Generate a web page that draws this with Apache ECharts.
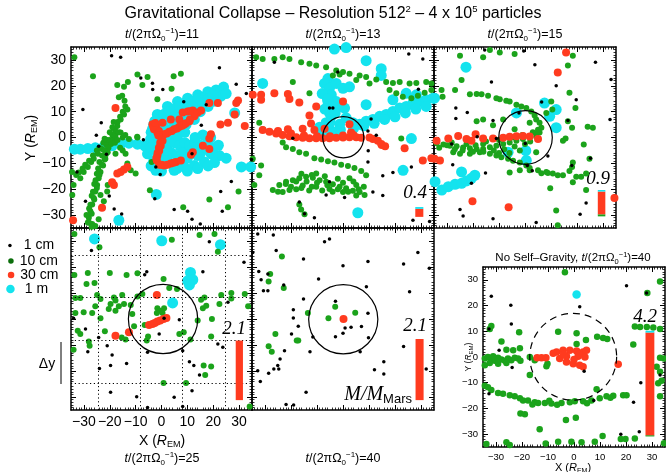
<!DOCTYPE html>
<html>
<head>
<meta charset="utf-8">
<title>Gravitational Collapse</title>
<script src="https://cdn.jsdelivr.net/npm/echarts@6/dist/echarts.min.js"></script>
<style>
  html, body { margin: 0; padding: 0; background: #fff; }
  #chart { width: 666px; height: 472px; }
</style>
</head>
<body>
<div id="chart"></div>
<script>
// particle positions, X and Y in R_EM, one array per panel and size class

// t = 11
const t11Cm1 = [[-19.3,31.6],[-15.8,31],[22.4,27],[-30.4,10.8],[-23.3,5.7],[-25.2,0.9],[-24.3,-3.4],[-21.3,-6.5],[-7,-0.9],[-3.4,18.6],[0.5,18.6],[8.6,13.8],[17.3,12.7],[15.4,4.7],[11.8,-6.3],[-2.2,-11.4],[-0.5,-14.3],[-2.6,-23.7],[4.9,-27.8],[10.1,-28.5],[11.8,-31.6],[15,-33.5],[23.5,-28.5],[27,-17],[28.9,20.6],[32.8,17],[34.8,-8.5],[-8,23],[-3.5,21],[-32.7,-13.3],[-29.4,-24.7],[-20.2,-22.6],[-18.3,-27.7],[-15.4,-29.6],[22.9,-20.9]];
const t11Cm10 = [[-33.7,31],[-26.5,23.7],[-17.1,20.3],[-14.5,19.6],[-13,21.5],[-9.3,24.4],[-7.4,20.3],[-5.4,23.4],[4.7,23.7],[7.5,24.7],[-1.6,14.8],[3.9,18.9],[-16.5,15.6],[-15.2,16.1],[-14.3,14.2],[-13.2,10.8],[-14.5,8.9],[-15.8,7],[-17.1,4.4],[-17.8,1.9],[-18.7,-0.6],[-19.7,-1.8],[-20.8,-5.7],[-21.7,-8.2],[-22.6,-10.8],[-23.6,-13.3],[-24.3,-15.8],[-24.9,-18.4],[-25.6,-20.9],[-26.2,-23.4],[-26.8,-25.9],[-27.5,-28.5],[-28.1,-31],[-28.5,-32.9],[-26.8,-33.5],[-25.6,-34.2],[-24.3,-31.6],[-23.2,-27.2],[-22.3,-24.7],[-23.6,-22.2],[-31.4,-15.8],[-30.1,-13.3],[-28.5,-11.4],[-27.2,-9.5],[-26.2,-8.2],[-24.6,-6.3],[-23,-4.4],[-21.3,-2.7],[-17.8,0.6],[-15.8,1.9],[-12.6,-0.6],[-9.3,0],[-10,-13.9],[-11.9,-12.7],[-13.2,-10.1],[-13.9,-6.3],[-17.8,-6.3],[-21,-20.9],[-20.8,-18.4],[-3.8,-9.5],[2,-10.8],[18.5,-24],[25.7,-27],[29.8,-20.9],[-34.6,-13.3],[-34,-18.4],[-34.5,-22.2],[-4.5,-20.4],[8.4,-27],[-9.4,0.3],
  [-19,1],[-18,3],[-20,-1],[-21,-3],[-19.5,-2.5],[-20.5,-4],[-22,-5],[-21.5,-6.5],[-23,-7],[-22,-8.5],[-24,-9.5],[-23,-10.5],[-24.5,-12],[-25,-14],[-24,-14.5],[-25.5,-16.5],[-26,-18],[-25,-19.5],[-26.5,-21],[-27,-22.5],[-26,-24],[-27.5,-26],[-28,-27.5],[-27,-29.5],[-29,-30],[-28,-33],[-27,-34.5],[-17,6],[-16,8],[-15,10],[-14,12],[-16.5,2],[-18,-2],[-17,-1],[-15,0],[-14,1],[-16,-4],[-15,-5],[-33,-14.5],[-32,-13.5],[-30.5,-12],[-29.5,-10.5],[-28,-9],[-26.5,-7],[-25,-5],[-24,-4],[-22.5,-2],[-21,-1],[-19,4],[-18.5,6],[-20,2],[-22,-0.5]];
const t11Cm30 = [[-2.9,3.2],[-1.6,1.9],[-0.3,0.4],[1,1.3],[3,2.2],[4.9,3.2],[6.9,4.2],[8.8,5],[10.8,6.3],[12.7,8.2],[14,9.7],[15.3,10.4],[12.1,10.4],[10.1,10.1],[8.2,9.7],[0.4,-1.3],[-0.3,-3.2],[-0.9,-5.1],[-1.6,-7],[-1.8,-8.9],[-0.9,-10.5],[1,-10.8],[3.6,-10.1],[5.6,-9.5],[7.5,-8.9],[0.4,5.7],[-3.5,5.1],[3.6,7],[6.9,7],[12.1,-5.7],[11.4,-6.7],[16,-3.2],[18.5,-4.4],[18.5,-0.4],[19.1,1.3],[21.8,13.3],[18.5,13.3],[28.3,8.9],[28.9,13.3],[29.6,14.3],[25.7,5.7],[32.2,4.4],[-17.1,-13.9],[-15.8,-13.3],[-14.5,-12.4],[-13.2,-11.4],[-19.1,-17.3],[-18.4,-18.4],[-17.8,11.4],[-23,-27.2],[-34.2,-32],[22.8,5],
  [-2,4],[-1,2.5],[0,1],[2,1.5],[4,2.5],[6,3.5],[8,4.5],[9.5,5.5],[11,7],[13,9.2],[-0.5,-2],[-1,-4],[-1.5,-6],[-2,-8],[0,-10.5],[2.3,-10.5],[4.6,-9.8],[-3.2,4.3],[-2.4,5.6],[11,10.2],[-1.2,0.8]];
const t11M1 = [[-33.7,-4.5],[-31.4,-4.5],[-28.5,-4.3],[-25.6,-4],[-22.3,-3.6],[-19.1,-3.2],[-15.8,-2.6],[-12.6,-2.2],[-9.3,-2.6],[-6.5,-3.2],[-5.4,-6.3],[-4.2,-0.6],[-3.5,3.2],[-2.6,6.3],[-1.6,8.9],[2.3,12],[6.2,13.9],[10.1,15.2],[14,16.5],[17.9,17.7],[21.1,18.4],[23.7,18.6],[15.3,13.3],[11.6,11.4],[7.5,9.5],[3.6,7],[6.2,-0.6],[8.8,-3.2],[11.4,-5.1],[15.3,-5.7],[19.2,-6.3],[22.4,-7],[17.9,-1.9],[13.4,-3.8],[2.3,-4.4],[-1.6,-5.7],[4.9,-12.7],[8.8,-11.4],[12.7,-10.8],[16.6,-9.5],[20.5,-9.7],[-2.2,-12.7],[-2,-22],[-16.5,-32],[30.9,-11.4],[34.5,-11.4],[4.9,4.4],[9.5,5],[12.7,7],[28.3,9.5],
  [-3,-2],[-1,-3],[1,-2],[3,-1],[5,-2],[7,-3],[9,-2],[11,-3],[13,-2],[15,-3],[17,-4],[20,-4],[0,-7],[2,-8],[4,-6],[6,-7],[8,-6],[10,-8],[-4,-4],[-3,-9],[-4,2],[-3,5],[-1,7],[1,9],[3,10],[5,11],[7,12],[9,13],[12,14],[14,15],[17,16],[19,17],[22,17],[24,19.5],[20,14],[18,12],[1,4],[2,-5],[6,1],[9,2],[13,0],[16,1],[19,0],[22,-3],[14,-7],[6,-12],[10,-13],[14,-12],[18,-11],[0,-13],[-4,-11],[25,-8],[0.5,1.5],[-1,-0.5],
  [15,10],[18,15],[21,15.5],[23,16],[10,10],[5,8],[8,7],[12,12],[25,17],[16,12.5],[20,16.5]];

// t = 13
const t13Cm1 = [[-26.4,29.1],[-2,25.3],[-5.2,11.4],[-3.9,11.4],[10.8,7.2],[9.6,2.5],[12.8,0.9],[-19.3,-0.3],[9.6,-9.5],[26.3,-11.4],[19.2,-13.5],[15.3,-14.8],[11.5,-21.1],[15.3,-22.4],[0.6,-23.2],[-16.8,-24.9],[-14.8,-29.5],[-11,-31],[26.9,-32],[33.3,-32.5],[30.7,30.4],[25.3,32.3],[-6.5,-22.2],[-5.2,-17.1],[9.7,-5.1],[29,18.7]];
const t13Cm10 = [[-33.4,31],[-30.9,30.4],[-23.2,31],[-20.6,30.4],[-16.1,29.1],[-12.9,28.5],[-10.3,27.8],[-6.5,27.2],[-2.6,25.9],[0,25.3],[2.5,24.7],[6.4,24],[8.9,23.4],[12.8,22.4],[16.6,21.5],[19.2,21.1],[21.8,21.5],[25.6,20.9],[28.2,21.1],[32,21.5],[34,20.9],[17.9,18.4],[20.5,17.1],[23,15.8],[26.3,15.2],[28.8,16.1],[31.4,17.3],[34,18.4],[-26.4,30.4],[-19.3,21.5],[-12.9,17.1],[-3.9,24],[-1.3,24.4],[5.1,22.2],[10.2,20.9],[-32.2,5.7],[-30.9,3.2],[-23.2,-1.9],[-21.9,-3.8],[-19.3,-4.4],[-16.8,-5.7],[-14.2,-6.3],[-11,-8],[-8.4,-8.5],[-5.8,-9.2],[-3.3,-9.7],[-0.7,-10.5],[1.9,-11],[4.4,-11.8],[7,-13],[8.9,-14.6],[-27,-20.3],[-24.5,-18.4],[-21.9,-17.1],[-19.3,-16.5],[-16.8,-15.8],[-14.2,-15.2],[-11.6,-15.6],[-9,-16.5],[-6.5,-17.1],[-3.9,-18.1],[-1.3,-19],[1.2,-19.6],[3.8,-20.6],[6.4,-21.1],[8.3,-22.2],[-23.2,-21.1],[-20.6,-20.3],[-15.5,-18.6],[-10.3,-19],[-5.2,-19.9],[0,-21.1],[5.1,-22.4],[-10.3,-13.9],[2.5,-15.8],[5.1,-18.4],[-16.8,-25.9],[-16.1,-27.8],[-14.8,-29.7],[-32.2,-14.6],[-34.1,-18.4],[-31.5,-10.8],[22.4,-0.4],[-34.7,-8.2],
  [-22,-18],[-18,-17],[-14,-17],[-10,-17.5],[-6,-18.5],[-2,-20],[2,-21],[6,-20],[-8,-20.5],[-4,-21],[-12,-19],[-16,-19.5],[-20,-19],[-25,-21],[-16,-14],[-12,-14.5],[-2,-16],[4,-17],[8,-19],[-7,-15],[0,-17.5],[-18,-20],[-13,-20.5]];
const t13Cm30 = [[-30.9,2.9],[-28.3,2.2],[-25.7,1.5],[-23.2,1],[-20.6,0.5],[-18,0.1],[-15.5,-0.1],[-12.9,-0.3],[-10.3,-0.3],[-7.8,-0.3],[-5.2,-0.3],[-2.6,-0.1],[0,0],[2.5,0.1],[5.1,0.1],[7,-0.1],[-34.7,16.5],[-31.5,16.5],[-31.5,14.6],[-26.4,17.1],[-21.2,16.8],[-20.6,14.9],[-16.8,13.5],[-10.3,12],[-12.9,8.5],[-12.3,5.4],[-11,2.9],[0,13.9],[3.1,1.9],[2.5,5.1],[11.5,-0.6],[13.4,-1.3],[14.9,-2.9],[16.2,-3.4],[23.7,-4.2],[30.7,-8.9],[34,-8],[-7.1,3.4],[-21.2,3.2],[-15.5,3.4],[10.2,0],[14.7,-2.5],
  [-25,2.5],[-20,1.5],[-15,0.8],[-10,0.5],[-5,0.5],[0,0.8],[4,1]];
const t13M1 = [[-30.9,20.9],[-3.3,34.2],[1.2,34.8],[8.9,29.7],[14.7,26.6],[14.7,24],[-5.8,22.8],[-7.1,20.9],[-5.2,19],[-2.6,20.9],[0,19],[2.5,19.6],[-4.5,16.5],[-2.6,13.9],[-1.3,12],[0.6,11.4],[-5.8,13.9],[-4.5,8.2],[-6.5,5.7],[-8.4,3.2],[1.2,7.6],[3.8,5.7],[6.4,5.1],[8.9,6.3],[11.5,7],[14.1,8.2],[16.6,8.9],[19.2,10.1],[21.8,11.4],[24.3,12],[26.9,13.3],[29.5,13.9],[32,14.6],[34.6,15.2],[19.2,14.6],[24.3,17.1],[28.2,16.5],[8.9,12.7],[-5.2,9.5],[-1.3,5.1],[-5.2,3.2],[26.3,-0.4],[23.1,-12.7],[5.7,-29.1],[-9,1.6],
  [4,3.5],[8,4.5],[12,5.5],[16,7],[20,8],[24,9.5],[28,11],[32,12],[-8,17],[-6,15],[-4,12],[-3,9.5],[-7,11],[-5,6],[-9,4],[-7,1.5],[-3,2],[-1,3]];

// t = 15
const t15Cm1 = [[-15.5,33.8],[-0.5,33.5],[3.8,28.1],[27.1,29.1],[33.1,22.4],[-12.9,21.5],[12,20],[19.7,14.6],[-26.6,11.4],[-22.2,9.7],[-26.6,7.3],[-12.3,6.6],[-2.3,9.5],[6.4,13.7],[16.5,6.6],[32.7,7],[-18.4,0.3],[-11,-0.4],[-28.2,-2.5],[-27.8,-10.5],[0.1,-2.3],[8.8,-7.2],[0.9,-10.8],[2.8,-12.9],[18,-10.8],[25.2,-8],[-15.2,-13.7],[-20.6,-17.7],[-25,-27.8],[-23.8,-30.4],[-12.3,-31.4],[4.3,-32.9],[21.2,-29.7],[23.5,-25.3]];
const t15Cm10 = [[-25,31.6],[-16.1,31],[-13.5,33.8],[-9.7,32.9],[-4,32.3],[18.4,31.6],[16.5,27.8],[-24.4,22.2],[-26.9,18.4],[-32.1,18.4],[-31.7,15.8],[-21.2,16.7],[-18.6,16.8],[-16.7,16.7],[-14.2,16.1],[-11,15.2],[-9.7,14.8],[-7.2,14.2],[-5.9,13.9],[-3.3,12.7],[-1.4,12],[0.5,11.4],[2.4,10.1],[3.7,8.5],[4.3,7],[5.6,5.7],[6.3,3.8],[5.6,1.9],[4.3,0.4],[10.1,13.9],[10.5,10.8],[17.1,17.3],[19.4,11.4],[16.5,6.3],[18.1,3.8],[24.1,4.2],[26.1,3.8],[15.6,-0.4],[14.6,-1.3],[22.6,-2.7],[24.8,-8.2],[18.4,-9.7],[18.1,-11.4],[17.1,-13],[14.6,-14.6],[12.6,-14.6],[10.7,-13.9],[8.8,-13.7],[6.3,-13.8],[5,-12.7],[1.8,-11.8],[0.5,-10.8],[-2,-9.7],[-4.6,-9],[-6.5,-8.2],[-9.1,-7.6],[-11,-7],[-13.5,-6.3],[-34,-2.2],[-31.4,-2.7],[-28.9,-3.2],[-26.3,-3.4],[-23.8,-3.9],[-21.2,-4.2],[-18.6,-4.4],[-16.1,-4.4],[-13.5,-3.8],[-11,-3.2],[-8.4,-2.5],[-5.9,-1.9],[-3.3,-1.3],[-0.8,-0.6],[1.8,0.4],[4.3,1.6],[-27.6,-5.7],[-25,-6.3],[-21.2,-6.3],[-17.4,-5.7],[-28.2,-1.9],[-22.5,-2.5],[-16.1,-2.5],[19.7,-15.2],[21.6,-15.2],[23.5,-13.9],[9.7,-19.6],[12,-28.2],[12.6,-33.9],[18.4,-17.3],[23.5,-20.3],[-18.6,6.3],[-16.1,7],[-12.3,4.7],[-8.4,7],[-4,3.2],[1.8,5.7],[8.2,9.5],[4.3,-5.7],[1.8,-12.7],[-5.9,-13.5],[-2,-12.7],[8.2,-13.3],
  [-30,-3],[-27,-4.5],[-24,-5],[-20,-5.5],[-16,-5.5],[-12,-5],[-8,-4.5],[-4,-3.5],[0,-2.5],[2,-1.5],[-10,-6],[-6,-6],[-2,-5],[-15,-1.5],[-10,-1],[-5,0],[-1,1],[3,2],[5,3],[-33,-4],[-19,-3]];
const t15Cm30 = [[-34,-1.3],[-29.5,-0.4],[-25.7,0.6],[-22.5,-0.6],[-20.6,-1.3],[-19,1.3],[-16.1,-0.4],[-12.3,-0.4],[-8.4,-0.1],[-5.9,0.3],[-3.3,0.5],[-0.8,0.6],[1.8,0.4],[5,-0.6],[15.8,32.9],[12.6,25.1],[-20.2,-24.7],[-6.3,-27],[34.4,-23.4],[-32.7,-8.9],[-34.8,-8.2]];
const t15M1 = [[-22.7,27.2],[7.5,13.3],[12,10.8],[9.5,8.2],[12,3.8],[-3.3,9.5],[0.3,-5.1],[0.5,-8.9],[-6.5,-5.7],[-24.4,-13.3],[-34.6,-17.1],[-32,-20.3],[-29.5,-19],[-26.9,-18.1],[-24.4,-17.7],[-22.5,-16.8],[-20.6,-15.8],[-19.3,-14.6],[-34.8,15.2]];

// t = 25
const t25Cm1 = [[-27.1,26.3],[18.5,29.7],[16,18.2],[-5.7,18.2],[-34,0.3],[-29.4,-3.8],[-24.3,-7.1],[-21,-10.3],[-28.5,-12.6],[-24,-19],[-19.7,-17.9],[-19.1,-13.8],[-13.5,-17.1],[-5.4,-12.8],[-9.6,-29.9],[-5.4,-34],[-19.7,-28.2],[-0.9,-5.8],[1,0.3],[6.9,-0.3],[8.2,-12.2],[10.8,-16.4],[12.5,-17.9],[14.7,-21.5],[11.8,-27.6],[4.9,-30.1],[8.2,-33.7],[21.8,-9.6],[23.7,-10.9],[31.9,21.8],[25.7,6.4],[-6.5,17]];
const t25Cm10 = [[-33.7,32.7],[-24,27.6],[4,30.5],[14.7,32.3],[20.5,32.7],[21.8,25.9],[-33.7,16.9],[-28.5,17.7],[-29,13.5],[-25.9,13.8],[-20,17.7],[-13.5,16.9],[-9.3,17.6],[0.8,15.4],[3,11.9],[6,11.5],[-33.3,8.1],[-31.4,8.1],[-24.9,9.2],[-23.6,7.7],[-18.4,8.3],[-17.8,7.1],[-15.2,9.2],[-9.3,8.7],[-7.4,9.6],[15.3,7.4],[16.6,8.3],[23.1,9.2],[27,10],[27,7.9],[32.2,9.6],[33.5,4.9],[16,4.1],[17.3,5.1],[22.4,5.8],[-33.3,2.3],[-30.1,2.6],[-26.8,2.3],[-25.6,4.9],[-19.7,5.8],[-20.4,3.8],[-16.5,4.9],[-14.5,5.8],[-11.9,5.4],[-11.3,1.9],[-17.8,3.2],[-23.6,0.3],[-31.4,-5.8],[-28.1,-8.7],[-27.8,-10.3],[-32.4,-4.5],[-21.9,-4.7],[-15.4,-7.1],[-13.9,-7.9],[-10.6,-2.8],[-5.7,-8.3],[-5.2,-6.7],[-6.5,-2.3],[-1.6,4.1],[-0.5,3.2],[1,4.1],[-1.8,2.3],[0.4,2.3],[6.9,-5.8],[8.6,-5.1],[11.2,-7.9],[14,-0.6],[19.5,0],[19.2,-6.7],[16.3,-17.9],[19.2,-18.3],[16.9,-21.5],[0.8,-24.6],[9.5,-24.6],[34.1,-33.7],[-34,-11.8]];
const t25Cm30 = [[-1.8,9.2],[-17.8,-6.4],[-12.6,-5.1],[-4.8,-2.3],[-3.5,-1.9],[-2.6,-1.5],[-1.6,-1],[-0.5,-0.6],[0.8,0],[1.9,0.4]];
const t25M1 = [[-25.9,30.8],[0.1,30.1],[22.8,28.6],[11.2,17.9],[10.1,14.7],[12.1,15.1],[10.8,13.1],[4.3,6.2]];

// t = 40
const t40Cm1 = [[-32.8,32.7],[-26.8,32.3],[-34.7,25.6],[-25.7,26.3],[-15.2,23.1],[-7.1,29.7],[-5.2,30.8],[0,20.5],[9.6,22.1],[23.3,21.2],[28.8,25.6],[33.2,19.5],[-32.4,18.3],[-31.5,15.1],[-30.6,10.9],[-28.9,10.9],[-28.9,17.3],[-22.8,13.1],[-9.4,15.4],[9,12.4],[-15.2,7.7],[-19.1,3.6],[-19.1,0.4],[-17.2,-2.8],[-19.8,-5.8],[-11.6,-6.9],[-12.7,-12.6],[-22.5,-12.2],[-24.2,-15.4],[-25.1,-17.9],[-24.7,-19.2],[-26.6,-19.2],[-28.6,-20.9],[-32.8,-19.9],[-31.8,-24],[-14.2,-28.2],[-21.9,-32.9],[-19,-33.1],[-2.9,6.8],[0.8,-3.5],[3.1,-3.2],[7.1,-2.9],[9.6,2.2],[9.8,-7.2],[0,-5.5],[-2.9,-6.8],[6.6,-12.6],[12.1,-19.5],[15.7,-16.4],[15.7,-21.2],[23.3,-10.6],[25.6,10.5],[32,-19.2]];
const t40Cm10 = [[-23.5,24],[-28,17.3],[-28.6,14.4],[-22.8,11.9],[-3,4.7],[4.7,2.4],[-5.6,0.3],[-13.5,2.3],[-26,-5.8],[-28.6,-10.5],[-27.4,-12.6],[-17.8,-8.3],[-17.2,-8.3]];
const t40Cm30 = [[0.2,0]];
const t40M1 = [];

// no self-gravity, t = 40
const nsgCm1 = [[-31.8,23.6],[-24.3,20.1],[-24.1,12.8],[-32.7,10.9],[-28.8,2.6],[-23.8,-4.1],[-32.7,-14.3],[2.2,19.5],[20.2,27.7],[27.9,24.9],[3.9,-5.5],[7.6,-16.9],[25.7,-10],[22.9,-17.6],[18,-30],[25.1,-29.1],[33.1,-7]];
const nsgCm10 = [[-34.3,-0.6],[-33.1,0],[-31.8,-1],[-30.5,-1.5],[-29.2,-0.3],[-27.9,-1],[-26.6,-1.5],[-25.4,-0.6],[-24.1,-1.3],[-22.8,-0.3],[-21.5,-0.6],[-20.6,-1.5],[-32.4,-2.3],[-29.2,-2.6],[-26,-2.3],[-34.3,-3.2],[-31.1,0.3],[-31.8,12.1],[-32.4,10.9],[-27.9,6],[-26,2.8],[-23.4,2.6],[-20.8,3.4],[-21.1,9.6],[-17,0],[-17,-7],[-15.1,-1.3],[-10.6,-3.6],[-10.2,-2.6],[-6.1,9.8],[-3.5,33],[1,9.2],[1,5.1],[4.6,6.6],[8.9,7.9],[11.2,7.4],[12.8,7],[8.7,-12.5],
  [-34.3,-11.2],[-33.1,-11.8],[-31.8,-12.8],[-29.2,-14],[-27.3,-14.3],[-24.7,-14.9],[-22.8,-15.3],[-20.8,-16],[-19.6,-16.9],[-17.7,-16.9],[-15.1,-17.6],[-13.8,-17.9],[-11.2,-17.9],[-8.7,-18.1],[-4.8,-17.9],[-1.6,-17.6],[0.3,-17.2],[3.5,-17.2],[6.7,-16.9],[9.9,-16],[12.5,-15.3],[15.1,-15.1],[18.9,-14.9],[20.2,-14.9],[22.8,4.9],[23.4,11.9],[25.4,11.7],[28,11.7],[30.5,11.5],[33.1,10.9],[34.6,-0.6],[33.1,-0.3],[31.8,-3.8],[33.1,-5.7],[32.4,-10.2],[33.7,-9.2],[33.1,-15.3],[33.1,29.4],[28.2,24.9],
  [-20.6,-22],[-18.9,-22.3],[-13.2,-28.1],[-3.1,-24.5],[0.7,-23.6],[11,-30.7],[18,-31.9],[19.8,-31.9],[23.4,-31.7],[-33.7,-33.8],[-26,-33.2],[-24.7,-34.2],[-10.9,-33.6],[-6.1,-33],[-1,-33],[2.9,-33.2],[8,-33],[34.6,-33.5],[-16,-18.5],[-9.5,-17],[-6.5,-18.6],[5,-18],[14,-15.8]];
const nsgCm30 = [[-14.2,-0.3],[-12.5,-0.3],[-10.8,-0.3],[-6.7,1.9],[-4.2,2.6],[-1.6,2.6],[1,2.3],[3.5,1.9],[4.8,2.6],[-5.5,-0.6],[-2.9,-1.9],[-0.3,-2.6],[2.2,-3.2],[3.5,-3.8],[-2.9,0.3],[1.6,0.3],[4.2,0],[17,-2.8],[-8,1.5],[-4,1],[0,-1],[2,1]];
const nsgM1 = [[1,24.3]];

// Hill spheres [centre X, centre Y, radius]
const t13Hill = [[0.1, 0.1, 7.9]];
const t15Hill = [[0.2, 0, 10.3]];
const t25Hill = [[0.6, 0, 13.4]];
const t40Hill = [[0.1, -0.1, 13.3]];
const nsgHill = [[-0.3, 0.1, 16.7]];

// mass bars [x from, x to, y from, y to, size class]
const t13Bar = [[27.8, 30.9, -30.7, -27.6, 2], [27.8, 30.9, -27.6, -26.9, 3]];
const t15Bar = [[28, 30.9, -30.5, -29.7, 1], [28, 30.9, -29.7, -20.9, 2], [28, 30.9, -20.9, -20.3, 3]];
const t25Bar = [[28.7, 31.5, -31.2, -8.3, 2]];
const t40Bar = [[27.9, 31, -31.2, -7.7, 2]];
const nsgBar = [[27.5, 30.9, -30.9, -30.4, 1], [27.5, 30.9, -30.4, 9.5, 2], [27.5, 30.9, 9.5, 10.2, 3]];

const massLabels = ['0.4', '0.9', '2.1', '2.1', '4.2'];
const hillGrid = [-24.6, -8.2, 8.2, 24.6];
const majorTicks = [-30, -20, -10, 0, 10, 20, 30];
const classNames = ['1 cm', '10 cm', '30 cm', '1 m'];

const palette = ['#000000', '#1ba31b', '#ff3b1f', '#14e3ee'];
const sans = 'Liberation Sans, Arial, Helvetica, sans-serif';
const serif = 'Liberation Serif, Times New Roman, serif';

const grids = [
  { left: 71, top: 47, width: 181, height: 181 },
  { left: 252, top: 47, width: 182, height: 181 },
  { left: 434, top: 47, width: 182, height: 181 },
  { left: 71, top: 228, width: 181, height: 182 },
  { left: 252, top: 228, width: 182, height: 182 },
  { left: 483, top: 267, width: 182, height: 180 },
];

const panels = [
  { pts: [t11Cm1, t11Cm10, t11Cm30, t11M1], hill: [], bar: [], xLab: false, yLab: true },
  { pts: [t13Cm1, t13Cm10, t13Cm30, t13M1], hill: t13Hill, bar: t13Bar, xLab: false, yLab: false },
  { pts: [t15Cm1, t15Cm10, t15Cm30, t15M1], hill: t15Hill, bar: t15Bar, xLab: false, yLab: false },
  { pts: [t25Cm1, t25Cm10, t25Cm30, t25M1], hill: t25Hill, bar: t25Bar, xLab: true, yLab: false, dotted: true },
  { pts: [t40Cm1, t40Cm10, t40Cm30, t40M1], hill: t40Hill, bar: t40Bar, xLab: false, yLab: false },
  { pts: [nsgCm1, nsgCm10, nsgCm30, nsgM1], hill: nsgHill, bar: nsgBar, xLab: true, yLab: true, dashed: true, small: true },
];

const minus = v => String(v).replace('-', '\u2212');

function makeAxis(gridIndex, position, showLabel, fontSize) {
  return {
    type: 'value', gridIndex, position,
    min: -35, max: 35, interval: 5,
    axisLine: { show: true, onZero: false, lineStyle: { color: '#000', width: 1.5 } },
    axisTick: { show: true, inside: true, length: 5, customValues: majorTicks, lineStyle: { color: '#000', width: 1 } },
    minorTick: { show: true, splitNumber: 5, length: 2.5, lineStyle: { color: '#000', width: 0.8 } },
    axisLabel: { show: showLabel, customValues: majorTicks, fontSize, fontFamily: sans, color: '#000', margin: 5, formatter: minus },
    splitLine: { show: false },
  };
}

const xAxis = [], yAxis = [], series = [];

panels.forEach((p, i) => {
  const fs = p.small ? 9.5 : 14;
  xAxis.push(makeAxis(i, 'bottom', p.xLab, fs), makeAxis(i, 'top', false, fs));
  yAxis.push(makeAxis(i, 'left', p.yLab, fs), makeAxis(i, 'right', false, fs));
  const sizes = p.small ? [3.5, 6.5, 7.5, 8.5] : [3.5, 6, 8, 11];
  const order = [3, 1, 2, 0];
  order.forEach((k, z) => {
    const s = {
      name: classNames[k], type: 'scatter',
      xAxisIndex: 2 * i, yAxisIndex: 2 * i,
      data: p.pts[k], symbolSize: sizes[k],
      itemStyle: { color: palette[k], opacity: 1 },
      z: 2 + z, silent: true,
    };
    if (k === 0 && p.dotted) {
      s.markLine = {
        silent: true, symbol: 'none', label: { show: false },
        lineStyle: { type: [1.2, 2.6], color: '#000', width: 1 },
        data: hillGrid.map(v => ({ xAxis: v })).concat(hillGrid.map(v => ({ yAxis: v }))),
      };
    }
    series.push(s);
  });
  if (p.hill.length) {
    series.push({
      type: 'custom', xAxisIndex: 2 * i, yAxisIndex: 2 * i,
      data: p.hill, encode: { x: 0, y: 1 }, z: 8, silent: true,
      renderItem: (params, api) => {
        const c = api.coord([api.value(0), api.value(1)]);
        const r = api.size([api.value(2), 0])[0];
        return {
          type: 'circle', shape: { cx: c[0], cy: c[1], r },
          style: { fill: 'none', stroke: '#000', lineWidth: 1.2, lineDash: p.dashed ? [7, 5] : null },
        };
      },
    });
  }
  if (p.bar.length) {
    series.push({
      type: 'custom', xAxisIndex: 2 * i, yAxisIndex: 2 * i,
      data: p.bar, encode: { x: [0, 1], y: [2, 3] }, z: 9, silent: true,
      renderItem: (params, api) => {
        const a = api.coord([api.value(0), api.value(3)]);
        const b = api.coord([api.value(1), api.value(2)]);
        return {
          type: 'rect', shape: { x: a[0], y: a[1], width: b[0] - a[0], height: b[1] - a[1] },
          style: { fill: palette[api.value(4)] },
        };
      },
    });
  }
});

// legend, one block per size class so the dots can differ in size
const legendSpec = [
  { left: 8.2, top: 238.5, size: 3.5, pad: 7, color: '#000' },
  { left: 8.2, top: 254, size: 5.5, pad: 1, color: '#0b6e0b' },
  { left: 7.8, top: 268, size: 6.5, pad: 1, color: '#ff3b1f' },
  { left: 6.2, top: 282, size: 8.5, pad: 5, color: '#14e3ee' },
];
const legend = legendSpec.map((l, k) => ({
  data: [{ name: classNames[k], itemStyle: { color: l.color } }],
  left: l.left, top: l.top, padding: 0, selectedMode: false,
  icon: 'circle', itemWidth: l.size, itemHeight: l.size,
  textStyle: { fontSize: 14, fontFamily: sans, color: '#000', padding: [0, 0, 0, l.pad] },
}));

const tRich = {
  i: { fontStyle: 'italic', fontSize: 12.5, fontFamily: sans },
  sub: { fontSize: 8, verticalAlign: 'bottom', fontFamily: sans },
  sup: { fontSize: 8, verticalAlign: 'top', fontFamily: sans },
};
const tLabel = n => '{i|t}/(2\u03c0\u03a9{sub|0}{sup|\u22121})=' + n;

function txt(x, y, text, extra) {
  return {
    type: 'text', x, y, silent: true,
    style: Object.assign({ text, fontSize: 12.5, fontFamily: sans, fill: '#000', align: 'center', verticalAlign: 'middle' }, extra || {}),
  };
}

const graphic = [
  txt(333, 14, 'Gravitational Collapse \u2013 Resolution 512{sup|2} \u2013 4 x 10{sup|5} particles', {
    fontSize: 16, lineHeight: 19, rich: { sup: { fontSize: 9.5, verticalAlign: 'top', lineHeight: 19 } },
  }),
  txt(162, 35, tLabel(11), { lineHeight: 16, rich: tRich }),
  txt(343, 35, tLabel(13), { lineHeight: 16, rich: tRich }),
  txt(525, 35, tLabel(15), { lineHeight: 16, rich: tRich }),
  txt(162, 459, tLabel(25), { lineHeight: 16, rich: tRich }),
  txt(343, 459, tLabel(40), { lineHeight: 16, rich: tRich }),
  txt(573, 258, 'No Self\u2013Gravity, ' + tLabel(40), {
    fontSize: 11.5, lineHeight: 15,
    rich: { i: { fontStyle: 'italic', fontSize: 11.5 }, sub: { fontSize: 7.5, verticalAlign: 'bottom' }, sup: { fontSize: 7.5, verticalAlign: 'top' } },
  }),
  Object.assign(txt(31, 138, 'Y ({i|R}{sub|EM})', {
    fontSize: 14, lineHeight: 17,
    rich: { i: { fontStyle: 'italic', fontSize: 14 }, sub: { fontSize: 9, verticalAlign: 'bottom' } },
  }), { rotation: Math.PI / 2 }),
  txt(162, 441, 'X ({i|R}{sub|EM})', {
    fontSize: 14, lineHeight: 17,
    rich: { i: { fontStyle: 'italic', fontSize: 14 }, sub: { fontSize: 9, verticalAlign: 'bottom' } },
  }),
  Object.assign(txt(469, 357, 'Y ({i|R}{sub|EM})', {
    fontSize: 8.5, lineHeight: 11,
    rich: { i: { fontStyle: 'italic', fontSize: 8.5 }, sub: { fontSize: 6, verticalAlign: 'bottom' } },
  }), { rotation: Math.PI / 2 }),
  txt(573, 468, 'X ({i|R}{sub|EM})', {
    fontSize: 11, lineHeight: 14,
    rich: { i: { fontStyle: 'italic', fontSize: 11 }, sub: { fontSize: 7, verticalAlign: 'bottom' } },
  }),
  txt(415, 193, massLabels[0], { fontSize: 19, fontFamily: serif, fontStyle: 'italic' }),
  txt(598, 179, massLabels[1], { fontSize: 19, fontFamily: serif, fontStyle: 'italic' }),
  txt(234, 329, massLabels[2], { fontSize: 19, fontFamily: serif, fontStyle: 'italic' }),
  txt(415, 326, massLabels[3], { fontSize: 19, fontFamily: serif, fontStyle: 'italic' }),
  txt(645, 317, massLabels[4], { fontSize: 19, fontFamily: serif, fontStyle: 'italic' }),
  txt(412, 395, '{m|M/M}{s|Mars}', {
    align: 'right', lineHeight: 22,
    rich: { m: { fontSize: 20, fontFamily: serif, fontStyle: 'italic' }, s: { fontSize: 13, fontFamily: sans, verticalAlign: 'bottom' } },
  }),
  txt(47, 364, '\u0394y', { fontSize: 14 }),
  { type: 'line', silent: true, shape: { x1: 61, y1: 342, x2: 61, y2: 384 }, style: { stroke: '#000', lineWidth: 1 } },
];

const chart = echarts.init(document.getElementById('chart'), null, { renderer: 'canvas' });
chart.setOption({
  animation: false,
  backgroundColor: '#fff',
  grid: grids,
  xAxis, yAxis, series, legend, graphic,
});
</script>
</body>
</html>
